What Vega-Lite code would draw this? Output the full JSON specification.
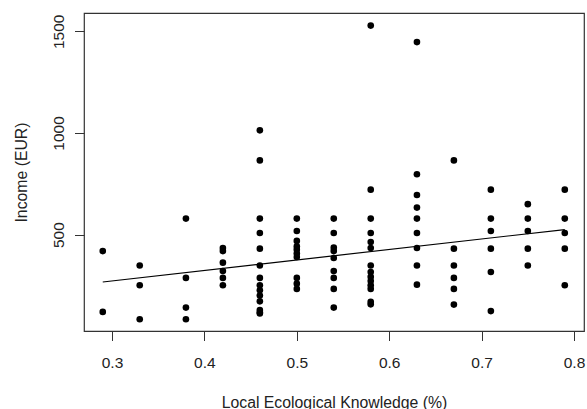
{
  "$schema": "https://vega.github.io/schema/vega-lite/v6.json",
  "width": 500,
  "height": 318,
  "autosize": "none",
  "padding": {"left": 84, "top": 13, "right": 3, "bottom": 78},
  "datasets": {
    "points": [
      {"lek": 0.29, "income": 419}, {"lek": 0.29, "income": 120},
      {"lek": 0.33, "income": 348}, {"lek": 0.33, "income": 251}, {"lek": 0.33, "income": 84},
      {"lek": 0.38, "income": 579}, {"lek": 0.38, "income": 287}, {"lek": 0.38, "income": 141}, {"lek": 0.38, "income": 84},
      {"lek": 0.42, "income": 434}, {"lek": 0.42, "income": 419}, {"lek": 0.42, "income": 362}, {"lek": 0.42, "income": 321}, {"lek": 0.42, "income": 287}, {"lek": 0.42, "income": 251},
      {"lek": 0.46, "income": 1013}, {"lek": 0.46, "income": 865}, {"lek": 0.46, "income": 579}, {"lek": 0.46, "income": 508}, {"lek": 0.46, "income": 431}, {"lek": 0.46, "income": 348}, {"lek": 0.46, "income": 287}, {"lek": 0.46, "income": 251}, {"lek": 0.46, "income": 226}, {"lek": 0.46, "income": 200}, {"lek": 0.46, "income": 172}, {"lek": 0.46, "income": 129}, {"lek": 0.46, "income": 118}, {"lek": 0.46, "income": 112},
      {"lek": 0.5, "income": 579}, {"lek": 0.5, "income": 518}, {"lek": 0.5, "income": 469}, {"lek": 0.5, "income": 442}, {"lek": 0.5, "income": 426}, {"lek": 0.5, "income": 407}, {"lek": 0.5, "income": 390}, {"lek": 0.5, "income": 287}, {"lek": 0.5, "income": 259}, {"lek": 0.5, "income": 233},
      {"lek": 0.54, "income": 579}, {"lek": 0.54, "income": 508}, {"lek": 0.54, "income": 436}, {"lek": 0.54, "income": 419}, {"lek": 0.54, "income": 385}, {"lek": 0.54, "income": 321}, {"lek": 0.54, "income": 287}, {"lek": 0.54, "income": 233}, {"lek": 0.54, "income": 141},
      {"lek": 0.58, "income": 1528}, {"lek": 0.58, "income": 721}, {"lek": 0.58, "income": 579}, {"lek": 0.58, "income": 508}, {"lek": 0.58, "income": 464}, {"lek": 0.58, "income": 434}, {"lek": 0.58, "income": 348}, {"lek": 0.58, "income": 316}, {"lek": 0.58, "income": 292}, {"lek": 0.58, "income": 272}, {"lek": 0.58, "income": 251}, {"lek": 0.58, "income": 233}, {"lek": 0.58, "income": 169}, {"lek": 0.58, "income": 157},
      {"lek": 0.63, "income": 1447}, {"lek": 0.63, "income": 797}, {"lek": 0.63, "income": 695}, {"lek": 0.63, "income": 633}, {"lek": 0.63, "income": 579}, {"lek": 0.63, "income": 508}, {"lek": 0.63, "income": 434}, {"lek": 0.63, "income": 348}, {"lek": 0.63, "income": 254},
      {"lek": 0.67, "income": 865}, {"lek": 0.67, "income": 431}, {"lek": 0.67, "income": 348}, {"lek": 0.67, "income": 287}, {"lek": 0.67, "income": 233}, {"lek": 0.67, "income": 156},
      {"lek": 0.71, "income": 721}, {"lek": 0.71, "income": 579}, {"lek": 0.71, "income": 518}, {"lek": 0.71, "income": 431}, {"lek": 0.71, "income": 316}, {"lek": 0.71, "income": 124},
      {"lek": 0.75, "income": 650}, {"lek": 0.75, "income": 579}, {"lek": 0.75, "income": 518}, {"lek": 0.75, "income": 431}, {"lek": 0.75, "income": 348},
      {"lek": 0.79, "income": 721}, {"lek": 0.79, "income": 579}, {"lek": 0.79, "income": 508}, {"lek": 0.79, "income": 431}, {"lek": 0.79, "income": 251}
    ],
    "fit": [
      {"lek": 0.29, "income": 267},
      {"lek": 0.79, "income": 525}
    ]
  },
  "encoding": {
    "x": {
      "field": "lek",
      "type": "quantitative",
      "scale": {"domain": [0.2697, 0.8108], "nice": false, "zero": false},
      "axis": {
        "title": "Local Ecological Knowledge (%)",
        "values": [0.3, 0.4, 0.5, 0.6, 0.7, 0.8],
        "format": ".1f",
        "labelPadding": 15,
        "titlePadding": 24
      }
    },
    "y": {
      "field": "income",
      "type": "quantitative",
      "scale": {"domain": [26, 1590], "nice": false, "zero": false},
      "axis": {
        "title": "Income (EUR)",
        "values": [500, 1000, 1500],
        "format": "d",
        "labelAngle": -90,
        "labelAlign": "center",
        "labelBaseline": "bottom",
        "labelPadding": 8,
        "titlePadding": 22
      }
    }
  },
  "layer": [
    {
      "data": {"name": "points"},
      "mark": {"type": "circle", "size": 44, "color": "black", "opacity": 1}
    },
    {
      "data": {"name": "fit"},
      "mark": {"type": "line", "color": "black", "strokeWidth": 1.2}
    }
  ],
  "config": {
    "font": "Liberation Sans",
    "view": {"stroke": "#333333", "strokeWidth": 1.2},
    "axis": {
      "grid": false,
      "domain": false,
      "tickColor": "#333333",
      "tickSize": 9.5,
      "tickWidth": 1,
      "labelFont": "Liberation Sans",
      "labelFontSize": 15.5,
      "labelColor": "#222222",
      "titleFont": "Liberation Sans",
      "titleFontSize": 15.8,
      "titleFontWeight": "normal",
      "titleColor": "#222222"
    }
  }
}
